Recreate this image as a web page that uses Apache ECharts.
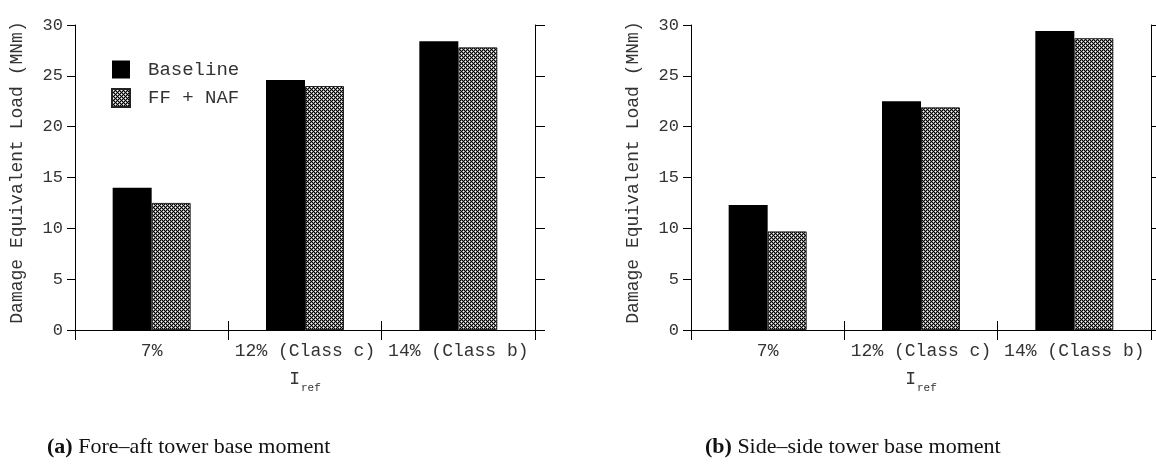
<!DOCTYPE html>
<html>
<head>
<meta charset="utf-8">
<script src="https://cdn.jsdelivr.net/npm/echarts@6/dist/echarts.min.js"></script>
<style>
html,body{margin:0;padding:0;background:#fff;}
#chart{width:1156px;height:473px;}
</style>
</head>
<body>
<div id="chart"></div>
<script>
// ---- data ----
const categories = ['7%', '12% (Class c)', '14% (Class b)'];
const seriesNames = ['Baseline', 'FF + NAF'];
const foreAftBaseline = [14.0, 24.6, 28.4];
const foreAftFFNAF = [12.5, 24.0, 27.8];
const sideSideBaseline = [12.3, 22.5, 29.4];
const sideSideFFNAF = [9.7, 21.9, 28.7];
const yTicks = [0, 5, 10, 15, 20, 25, 30];
const yAxisTitle = 'Damage Equivalent Load (MNm)';
const captions = ['Fore\u2013aft tower base moment', 'Side\u2013side tower base moment'];

// ---- hatch pattern ----
const pc = document.createElement('canvas');
pc.width = 4; pc.height = 4;
const pctx = pc.getContext('2d');
pctx.fillStyle = '#000';
pctx.fillRect(0, 0, 4, 4);
const whites = [[1, 1], [3, 3]];
pctx.fillStyle = '#8a8a8a';
whites.forEach(([x, y]) => {
  [[1,0],[-1,0],[0,1],[0,-1]].forEach(([dx, dy]) => {
    pctx.fillRect((x + dx + 4) % 4, (y + dy + 4) % 4, 1, 1);
  });
});
pctx.fillStyle = '#fff';
whites.forEach(([x, y]) => pctx.fillRect(x, y, 1, 1));
const hatch = { image: pc, repeat: 'repeat' };

const mono = 'Liberation Mono';
const txt = '#333';

const grids = [
  { left: 75, width: 460, top: 25, height: 305 },
  { left: 691, width: 460, top: 25, height: 305 }
];

const xAxes = [], yAxes = [], series = [];
grids.forEach((g, i) => {
  xAxes.push({
    type: 'category', gridIndex: i, data: categories, position: 'bottom',
    axisLine: { lineStyle: { color: '#000', width: 1 } },
    axisTick: { show: true, length: 10, lineStyle: { color: '#000' } },
    axisLabel: { interval: 0, color: txt, fontFamily: mono, fontSize: 18, margin: 12 },
    name: '{i|I}{s|ref}', nameLocation: 'middle', nameGap: 40,
    nameTextStyle: {
      rich: {
        i: { fontFamily: mono, fontSize: 18, color: txt, verticalAlign: 'top', lineHeight: 18 },
        s: { fontFamily: mono, fontSize: 11, color: txt, verticalAlign: 'top', lineHeight: 12, padding: [13, 0, 0, 1] }
      }
    }
  });
  xAxes.push({
    type: 'category', gridIndex: i, data: categories, position: 'top',
    axisLine: { lineStyle: { color: '#000', width: 1 } },
    axisTick: { show: true, length: 9, lineStyle: { color: '#000' } },
    axisLabel: { show: false }
  });
  yAxes.push({
    type: 'value', gridIndex: i, min: 0, max: 30, interval: 5, position: 'left',
    splitLine: { show: false },
    axisLine: { show: true, lineStyle: { color: '#000', width: 1 } },
    axisTick: { show: true, length: 8, lineStyle: { color: '#000' } },
    axisLabel: { color: txt, fontFamily: mono, fontSize: 17, margin: 12 },
    name: yAxisTitle, nameLocation: 'middle', nameGap: 49, nameRotate: 90,
    nameTextStyle: { color: txt, fontFamily: mono, fontSize: 18, padding: [0, 0, 0, 10] }
  });
  yAxes.push({
    type: 'value', gridIndex: i, min: 0, max: 30, interval: 5, position: 'right',
    splitLine: { show: false },
    axisLine: { show: true, lineStyle: { color: '#000', width: 1 } },
    axisTick: { show: true, length: 10, lineStyle: { color: '#000' } },
    axisLabel: { show: false }
  });
});

const dataSets = [[foreAftBaseline, foreAftFFNAF], [sideSideBaseline, sideSideFFNAF]];
dataSets.forEach((pair, i) => {
  series.push({
    name: seriesNames[0], type: 'bar', xAxisIndex: i * 2, yAxisIndex: i * 2,
    data: pair[0], barWidth: 39, barGap: '0%',
    itemStyle: { color: '#000' }
  });
  series.push({
    name: seriesNames[1], type: 'bar', xAxisIndex: i * 2, yAxisIndex: i * 2,
    data: pair[1], barWidth: 39, barGap: '0%',
    itemStyle: { color: hatch, borderColor: '#222', borderWidth: 1 }
  });
});

const capStyle = (tag, text) => ({
  text: '{b|(' + tag + ')} ' + text,
  rich: { b: { fontFamily: 'Liberation Serif', fontSize: 22, fontWeight: 'bold', fill: '#111' } },
  fontFamily: 'Liberation Serif', fontSize: 22, fill: '#111'
});

const chart = echarts.init(document.getElementById('chart'), null, { renderer: 'canvas' });
chart.setOption({
  animation: false,
  backgroundColor: '#fff',
  grid: grids,
  xAxis: xAxes,
  yAxis: yAxes,
  series: series,
  legend: {
    data: seriesNames, orient: 'vertical', left: 111, top: 60, padding: 0,
    itemWidth: 18, itemHeight: 18, itemGap: 9, icon: 'rect',
    selectedMode: false,
    textStyle: { color: txt, fontFamily: mono, fontSize: 19, padding: [0, 0, 0, 13] }
  },
  graphic: [
    { type: 'text', left: 47, top: 436, style: capStyle('a', captions[0]) },
    { type: 'text', left: 705, top: 436, style: capStyle('b', captions[1]) }
  ]
});
</script>
</body>
</html>
